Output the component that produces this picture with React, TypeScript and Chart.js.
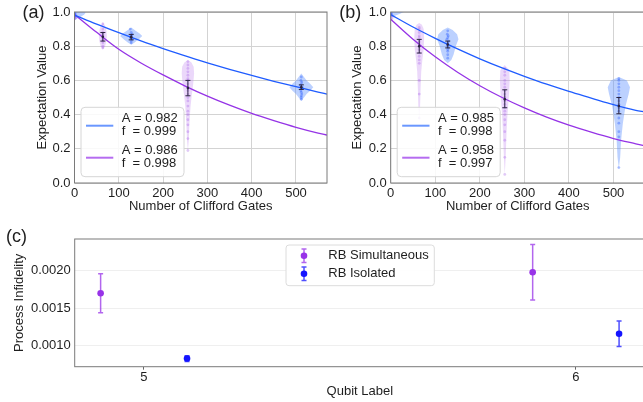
import React, { useEffect, useRef } from "react";
import { Chart, registerables } from "chart.js";
Chart.register(...registerables);

const FONT = "'Liberation Sans', Arial, Helvetica, sans-serif";
const TXT = "#1e1e1e";

// ---------------- DATA ----------------
const rbXTicks = [0, 100, 200, 300, 400, 500];
const rbYTicks = [0, 0.2, 0.4, 0.6, 0.8, 1.0];

// fitted decay curves (Number of Clifford Gates -> Expectation Value)
const fitGates = [0, 50, 100, 150, 200, 250, 300, 350, 400, 450, 500, 550, 570];
const fitBlueA = [0.982, 0.929, 0.879, 0.831, 0.786, 0.743, 0.703, 0.665, 0.629, 0.595, 0.563, 0.532, 0.52];
const fitPurpleA = [0.986, 0.881, 0.782, 0.702, 0.632, 0.567, 0.508, 0.455, 0.407, 0.365, 0.326, 0.292, 0.28];
const fitBlueB = [0.985, 0.912, 0.846, 0.784, 0.726, 0.673, 0.624, 0.578, 0.536, 0.497, 0.458, 0.425, 0.415];
const fitPurpleB = [0.958, 0.841, 0.738, 0.648, 0.569, 0.5, 0.439, 0.385, 0.338, 0.297, 0.26, 0.229, 0.217];

const legendA = [["A = 0.982", "f  = 0.999"], ["A = 0.986", "f  = 0.998"]];
const legendB = [["A = 0.985", "f  = 0.998"], ["A = 0.958", "f  = 0.997"]];

// violin outlines: [expectation value, half width in gates]
const violinA_blue1 = [[0.955, 0], [0.965, 8], [0.975, 15], [0.985, 21], [0.995, 24], [1.005, 22], [1.02, 0]];
const violinA_purple1 = [[0.952, 0], [0.96, 4], [0.97, 6], [0.98, 6], [0.99, 4], [0.998, 0]];
const violinA_purple64 = [[0.78, 0], [0.8, 5], [0.83, 8], [0.86, 9], [0.89, 8], [0.92, 5], [0.94, 0]];
const violinA_blue128 = [[0.808, 0], [0.82, 7], [0.84, 17], [0.86, 25], [0.875, 19], [0.89, 10], [0.91, 0]];
const violinA_purple256 = [[0.19, 0], [0.25, 2], [0.35, 3.5], [0.45, 6], [0.52, 9], [0.58, 12], [0.64, 14], [0.68, 13], [0.705, 8], [0.72, 0]];
const violinA_blue512 = [[0.48, 0], [0.5, 6], [0.52, 12], [0.54, 20], [0.56, 27], [0.58, 20], [0.6, 12], [0.62, 6], [0.64, 0]];

const violinB_blue1 = [[0.97, 0], [0.98, 10], [0.99, 20], [1.0, 28], [1.01, 26], [1.02, 0]];
const violinB_purple1 = [[0.948, 0], [0.96, 5], [0.97, 6], [0.98, 6], [0.99, 4], [0.998, 0]];
const violinB_purple64 = [[0.37, 0], [0.45, 2], [0.55, 3], [0.65, 4.5], [0.72, 7], [0.78, 10], [0.85, 11], [0.9, 10], [0.925, 6], [0.935, 0]];
const violinB_blue128 = [[0.7, 0], [0.72, 8], [0.75, 13], [0.8, 18], [0.84, 24], [0.87, 21], [0.895, 11], [0.91, 0]];
const violinB_purple256 = [[0.05, 0], [0.15, 2], [0.3, 4], [0.4, 6], [0.5, 9], [0.6, 11], [0.66, 10], [0.69, 0]];
const violinB_blue512 = [[0.085, 0], [0.15, 3], [0.25, 5], [0.35, 9], [0.45, 15], [0.52, 22], [0.56, 25], [0.6, 18], [0.62, 0]];

// individual runs: [gates, expectation value]
const samplesA_blue = [
  [1, 0.99], [1, 0.985], [1, 0.98], [1, 0.975], [1, 0.995],
  [126, 0.9], [128, 0.88], [130, 0.87], [127, 0.86], [129, 0.86], [128, 0.85], [126, 0.85], [130, 0.84], [128, 0.83], [128, 0.82],
  [512, 0.62], [511, 0.6], [513, 0.59], [512, 0.58], [510, 0.57], [512, 0.56], [514, 0.56], [512, 0.55], [511, 0.54], [512, 0.53], [513, 0.52], [512, 0.51], [512, 0.5], [512, 0.49],
];
const samplesA_purple = [
  [1, 0.975], [1, 0.965], [1, 0.97], [1, 0.96],
  [64, 0.93], [64, 0.9], [64, 0.88], [64, 0.87], [64, 0.86], [64, 0.85], [64, 0.84], [64, 0.83], [64, 0.82], [64, 0.8], [64, 0.79],
  [256, 0.71], [256, 0.69], [256, 0.67], [256, 0.65], [256, 0.63], [256, 0.61], [256, 0.6], [256, 0.58], [256, 0.56], [256, 0.54], [256, 0.52], [256, 0.5], [256, 0.48], [256, 0.45], [256, 0.42], [256, 0.4], [256, 0.37], [256, 0.34], [256, 0.3], [256, 0.26], [256, 0.19],
];
const samplesB_blue = [
  [1, 0.995], [1, 0.99], [1, 0.985],
  [128, 0.89], [127, 0.87], [129, 0.86], [128, 0.85], [126, 0.84], [130, 0.83], [128, 0.82], [128, 0.81], [127, 0.8], [129, 0.79], [128, 0.78], [128, 0.77], [128, 0.75], [128, 0.73],
  [512, 0.61], [512, 0.6], [512, 0.58], [512, 0.56], [512, 0.54], [512, 0.52], [512, 0.5], [512, 0.48], [512, 0.46], [512, 0.44], [512, 0.42], [512, 0.38], [512, 0.35], [512, 0.3], [512, 0.27], [512, 0.09],
];
const samplesB_purple = [
  [1, 0.98], [1, 0.97], [1, 0.96],
  [64, 0.91], [64, 0.9], [64, 0.88], [64, 0.86], [64, 0.85], [64, 0.83], [64, 0.82], [64, 0.8], [64, 0.78], [64, 0.76], [64, 0.74], [64, 0.72], [64, 0.7], [64, 0.6], [64, 0.52], [64, 0.38],
  [256, 0.67], [256, 0.65], [256, 0.63], [256, 0.6], [256, 0.58], [256, 0.56], [256, 0.54], [256, 0.52], [256, 0.5], [256, 0.48], [256, 0.46], [256, 0.44], [256, 0.42], [256, 0.4], [256, 0.37], [256, 0.34], [256, 0.3], [256, 0.25], [256, 0.15], [256, 0.05],
];

// mean error bars: [gates, mean, low, high]
const errA = [[64, 0.855, 0.83, 0.88], [128, 0.853, 0.837, 0.869], [256, 0.555, 0.51, 0.6], [512, 0.56, 0.547, 0.574]];
const errB = [[64, 0.8, 0.76, 0.84], [128, 0.81, 0.79, 0.83], [256, 0.49, 0.44, 0.545], [512, 0.45, 0.405, 0.5]];

// panel (c)
const qubitLabels = [5, 6];
const simInfidelity = [0.0017, 0.00198];
const simLow = [0.00144, 0.00161];
const simHigh = [0.00196, 0.00235];
const isoInfidelity = [0.00083, 0.00116];
const isoLow = [0.00079, 0.00099];
const isoHigh = [0.000867, 0.00133];
const infYTicks = [0.001, 0.0015, 0.002];

// ---------------- STYLE ----------------
const BLUE = "#1f5cff";
const PURPLE = "#9533e6";
const VIOLIN_BLUE = "rgba(95,145,255,0.42)";
const VIOLIN_PURPLE = "rgba(190,125,240,0.3)";
const DOT_BLUE = "rgba(45,95,255,0.4)";
const DOT_PURPLE = "rgba(165,95,232,0.33)";
const GRID = "#d3d3d3";
const FRAME = "#7a7a7a";

type Violin = { m: number; fill: string; profile: number[][] };

function rbPlugin(p: any) {
  return {
    id: "rbExtras",
    beforeDatasetsDraw(chart: any) {
      const { ctx, chartArea: ca, scales } = chart;
      const x = scales.x, y = scales.y;
      ctx.save();
      ctx.beginPath();
      ctx.rect(ca.left, ca.top, ca.right - ca.left, ca.bottom - ca.top);
      ctx.clip();
      for (const v of p.violins as Violin[]) {
        const prof = v.profile;
        ctx.beginPath();
        prof.forEach(([val, w], i) => {
          const px = x.getPixelForValue(v.m + w), py = y.getPixelForValue(val);
          if (i === 0) ctx.moveTo(px, py); else ctx.lineTo(px, py);
        });
        for (let i = prof.length - 1; i >= 0; i--) {
          const [val, w] = prof[i];
          ctx.lineTo(x.getPixelForValue(v.m - w), y.getPixelForValue(val));
        }
        ctx.closePath();
        ctx.fillStyle = v.fill;
        ctx.fill();
      }
      ctx.restore();
    },
    afterDatasetsDraw(chart: any) {
      const { ctx, chartArea: ca, scales } = chart;
      const x = scales.x, y = scales.y;
      ctx.save();
      // error bars
      ctx.strokeStyle = "#2a2440";
      ctx.lineWidth = 1;
      for (const [m, mean, lo, hi] of p.errs) {
        const px = x.getPixelForValue(m);
        const pl = y.getPixelForValue(lo), ph = y.getPixelForValue(hi);
        ctx.beginPath();
        ctx.moveTo(px, pl); ctx.lineTo(px, ph);
        ctx.moveTo(px - 2.5, pl); ctx.lineTo(px + 2.5, pl);
        ctx.moveTo(px - 2.5, ph); ctx.lineTo(px + 2.5, ph);
        ctx.stroke();
        ctx.fillStyle = "#2a2440";
        ctx.beginPath();
        ctx.arc(px, y.getPixelForValue(mean), 1.3, 0, Math.PI * 2);
        ctx.fill();
      }
      // frame
      ctx.strokeStyle = FRAME;
      ctx.lineWidth = 1;
      ctx.strokeRect(ca.left, ca.top, ca.right - ca.left, ca.bottom - ca.top);
      // legend
      const bx = ca.left + 6.5, by = ca.top + 95.3, bw = 103, bh = 69.4;
      ctx.beginPath();
      (ctx as any).roundRect(bx, by, bw, bh, 4);
      ctx.fillStyle = "rgba(255,255,255,0.85)";
      ctx.fill();
      ctx.strokeStyle = "#d6d6d6";
      ctx.stroke();
      const rows = [
        { color: "#6a97ff", ly: 18.4, t1: 11, t2: 24.4 },
        { color: "#b56cf0", ly: 50.4, t1: 43.4, t2: 56 },
      ];
      ctx.font = `13px ${FONT}`;
      ctx.textBaseline = "middle";
      ctx.textAlign = "left";
      rows.forEach((r, i) => {
        ctx.strokeStyle = r.color;
        ctx.lineWidth = 2;
        ctx.beginPath();
        ctx.moveTo(bx + 5, by + r.ly);
        ctx.lineTo(bx + 32.3, by + r.ly);
        ctx.stroke();
        ctx.fillStyle = TXT;
        ctx.fillText(p.legend[i][0], bx + 40.7, by + r.t1);
        ctx.fillText(p.legend[i][1], bx + 40.7, by + r.t2);
      });
      ctx.restore();
    },
    afterDraw(chart: any) {
      const ctx = chart.ctx;
      ctx.save();
      ctx.font = `18px ${FONT}`;
      ctx.fillStyle = TXT;
      ctx.textBaseline = "middle";
      ctx.textAlign = "left";
      ctx.fillText(p.label, p.labelX, 13);
      ctx.restore();
    },
  };
}

function rbConfig(p: any) {
  const tickFont = { family: FONT, size: 13 };
  return {
    type: "scatter",
    data: {
      datasets: [
        {
          type: "line",
          data: fitGates.map((m, i) => ({ x: m, y: p.fitBlue[i] })),
          borderColor: BLUE, borderWidth: 1.3, pointRadius: 0, fill: false,
          cubicInterpolationMode: "monotone",
        },
        {
          type: "line",
          data: fitGates.map((m, i) => ({ x: m, y: p.fitPurple[i] })),
          borderColor: PURPLE, borderWidth: 1.3, pointRadius: 0, fill: false,
          cubicInterpolationMode: "monotone",
        },
        {
          data: p.samplesBlue.map(([gx, gy]: number[]) => ({ x: gx, y: gy })),
          pointRadius: 1.4, backgroundColor: DOT_BLUE, borderWidth: 0,
        },
        {
          data: p.samplesPurple.map(([gx, gy]: number[]) => ({ x: gx, y: gy })),
          pointRadius: 1.4, backgroundColor: DOT_PURPLE, borderWidth: 0,
        },
      ],
    },
    options: {
      animation: false,
      responsive: false,
      devicePixelRatio: 1,
      layout: { padding: { left: 0, top: 12, right: p.rightPad, bottom: 0 } },
      plugins: { legend: { display: false }, tooltip: { enabled: false } },
      scales: {
        x: {
          type: "linear", min: 0, max: 570,
          afterBuildTicks: (s: any) => { s.ticks = rbXTicks.map((v) => ({ value: v })); },
          afterFit: (s: any) => { s.height = 37; },
          grid: { color: GRID, drawTicks: false },
          border: { display: false },
          ticks: { padding: 3, font: tickFont, color: TXT },
          title: { display: true, text: "Number of Clifford Gates", font: tickFont, color: TXT, padding: { top: 0, bottom: 5.5 } },
        },
        y: {
          type: "linear", min: 0, max: 1,
          afterBuildTicks: (s: any) => { s.ticks = rbYTicks.map((v) => ({ value: v })); },
          afterFit: (s: any) => { s.width = p.yWidth; },
          grid: { color: GRID, drawTicks: false },
          border: { display: false },
          ticks: { padding: 4, font: tickFont, color: TXT, callback: (v: any) => Number(v).toFixed(1) },
          title: { display: true, text: "Expectation Value", font: tickFont, color: TXT, padding: { top: p.yTitlePad, bottom: 0 } },
        },
      },
    },
    plugins: [rbPlugin(p)],
  };
}

const configA = () =>
  rbConfig({
    fitBlue: fitBlueA, fitPurple: fitPurpleA,
    samplesBlue: samplesA_blue, samplesPurple: samplesA_purple,
    violins: [
      { m: 1, fill: VIOLIN_PURPLE, profile: violinA_purple1 },
      { m: 1, fill: VIOLIN_BLUE, profile: violinA_blue1 },
      { m: 64, fill: VIOLIN_PURPLE, profile: violinA_purple64 },
      { m: 128, fill: VIOLIN_BLUE, profile: violinA_blue128 },
      { m: 256, fill: VIOLIN_PURPLE, profile: violinA_purple256 },
      { m: 512, fill: VIOLIN_BLUE, profile: violinA_blue512 },
    ],
    errs: errA, legend: legendA, label: "(a)", labelX: 22.5,
    yWidth: 74.5, yTitlePad: 35, rightPad: 1,
  });

const configB = () =>
  rbConfig({
    fitBlue: fitBlueB, fitPurple: fitPurpleB,
    samplesBlue: samplesB_blue, samplesPurple: samplesB_purple,
    violins: [
      { m: 1, fill: VIOLIN_PURPLE, profile: violinB_purple1 },
      { m: 1, fill: VIOLIN_BLUE, profile: violinB_blue1 },
      { m: 64, fill: VIOLIN_PURPLE, profile: violinB_purple64 },
      { m: 128, fill: VIOLIN_BLUE, profile: violinB_blue128 },
      { m: 256, fill: VIOLIN_PURPLE, profile: violinB_purple256 },
      { m: 512, fill: VIOLIN_BLUE, profile: violinB_blue512 },
    ],
    errs: errB, legend: legendB, label: "(b)", labelX: 8.3,
    yWidth: 59.7, yTitlePad: 19, rightPad: 6.3,
  });

const SIM = "#9833e8";
const ISO = "#1414ff";
const SIM_BAR = "rgba(152,51,232,0.75)";
const ISO_BAR = "rgba(20,20,255,0.75)";
const DODGE = 0.1;

function infPlugin() {
  const drawBar = (ctx: any, px: number, pl: number, ph: number, color: string) => {
    ctx.strokeStyle = color;
    ctx.lineWidth = 1.5;
    ctx.beginPath();
    ctx.moveTo(px, pl); ctx.lineTo(px, ph);
    ctx.moveTo(px - 2.5, pl); ctx.lineTo(px + 2.5, pl);
    ctx.moveTo(px - 2.5, ph); ctx.lineTo(px + 2.5, ph);
    ctx.stroke();
  };
  return {
    id: "infExtras",
    beforeDatasetsDraw(chart: any) {
      const { ctx, scales } = chart;
      const x = scales.x, y = scales.y;
      ctx.save();
      qubitLabels.forEach((q, i) => {
        drawBar(ctx, x.getPixelForValue(q - DODGE), y.getPixelForValue(simLow[i]), y.getPixelForValue(simHigh[i]), SIM_BAR);
        drawBar(ctx, x.getPixelForValue(q + DODGE), y.getPixelForValue(isoLow[i]), y.getPixelForValue(isoHigh[i]), ISO_BAR);
      });
      ctx.restore();
    },
    afterDatasetsDraw(chart: any) {
      const { ctx, chartArea: ca } = chart;
      ctx.save();
      ctx.strokeStyle = FRAME;
      ctx.lineWidth = 1;
      ctx.strokeRect(ca.left, ca.top, ca.right - ca.left, ca.bottom - ca.top);
      // legend
      const bx = 286, by = 25, bw = 148.3, bh = 40.7;
      ctx.beginPath();
      (ctx as any).roundRect(bx, by, bw, bh, 3);
      ctx.fillStyle = "rgba(255,255,255,0.9)";
      ctx.fill();
      ctx.strokeStyle = "#dcdcdc";
      ctx.stroke();
      const rows = [
        { y: 35.7, c: SIM, bar: SIM_BAR, t: "RB Simultaneous" },
        { y: 53.7, c: ISO, bar: ISO_BAR, t: "RB Isolated" },
      ];
      ctx.font = `13px ${FONT}`;
      ctx.textBaseline = "middle";
      ctx.textAlign = "left";
      rows.forEach((r) => {
        drawBar(ctx, 304, r.y - 6.7, r.y + 6.7, r.bar);
        ctx.fillStyle = r.c;
        ctx.beginPath();
        ctx.arc(304, r.y, 3.3, 0, Math.PI * 2);
        ctx.fill();
        ctx.fillStyle = TXT;
        ctx.fillText(r.t, 328.3, r.y);
      });
      ctx.font = `18px ${FONT}`;
      ctx.fillText("(c)", 6, 17.5);
      ctx.restore();
    },
  };
}

const configC = () => {
  const tickFont = { family: FONT, size: 13 };
  return {
    type: "scatter",
    data: {
      datasets: [
        {
          data: qubitLabels.map((q, i) => ({ x: q - DODGE, y: simInfidelity[i] })),
          pointRadius: 3.3, backgroundColor: SIM, borderWidth: 0,
        },
        {
          data: qubitLabels.map((q, i) => ({ x: q + DODGE, y: isoInfidelity[i] })),
          pointRadius: 3.3, backgroundColor: ISO, borderWidth: 0,
        },
      ],
    },
    options: {
      animation: false,
      responsive: false,
      devicePixelRatio: 1,
      layout: { padding: { left: 0, top: 19, right: 15, bottom: 0 } },
      plugins: { legend: { display: false }, tooltip: { enabled: false } },
      scales: {
        x: {
          type: "linear", min: 4.84, max: 6.16,
          afterBuildTicks: (s: any) => { s.ticks = qubitLabels.map((v) => ({ value: v })); },
          afterFit: (s: any) => { s.height = 35.3; },
          grid: { drawOnChartArea: false, drawTicks: true, tickLength: 3, tickColor: "#666" },
          border: { display: false },
          ticks: { padding: 0, font: tickFont, color: TXT, callback: (v: any) => String(v) },
          title: { display: true, text: "Qubit Label", font: tickFont, color: TXT, padding: { top: 0, bottom: 2.5 } },
        },
        y: {
          type: "linear", min: 0.00072, max: 0.002423,
          afterBuildTicks: (s: any) => { s.ticks = infYTicks.map((v) => ({ value: v })); },
          afterFit: (s: any) => { s.width = 74.7; },
          grid: { color: "#efefef", drawTicks: false },
          border: { display: false },
          ticks: { padding: 4, font: tickFont, color: TXT, callback: (v: any) => Number(v).toFixed(4) },
          title: { display: true, text: "Process Infidelity", font: tickFont, color: TXT, padding: { top: 12, bottom: 0 } },
        },
      },
    },
    plugins: [infPlugin()],
  };
};

function ChartCanvas({ make, left, top, width, height }: any) {
  const ref = useRef<HTMLCanvasElement>(null);
  useEffect(() => {
    const chart = new Chart(ref.current as HTMLCanvasElement, make() as any);
    return () => chart.destroy();
  }, []);
  return (
    <canvas
      ref={ref}
      width={width}
      height={height}
      style={{ position: "absolute", left, top, width, height, display: "block" }}
    />
  );
}

export default function App() {
  return (
    <div style={{ position: "fixed", left: 0, top: 0, width: 643, height: 402, overflow: "hidden", background: "#fff" }}>
      <ChartCanvas make={configA} left={0} top={0} width={331} height={220} />
      <ChartCanvas make={configB} left={331} top={0} width={320} height={220} />
      <ChartCanvas make={configC} left={0} top={220} width={660} height={182} />
    </div>
  );
}
